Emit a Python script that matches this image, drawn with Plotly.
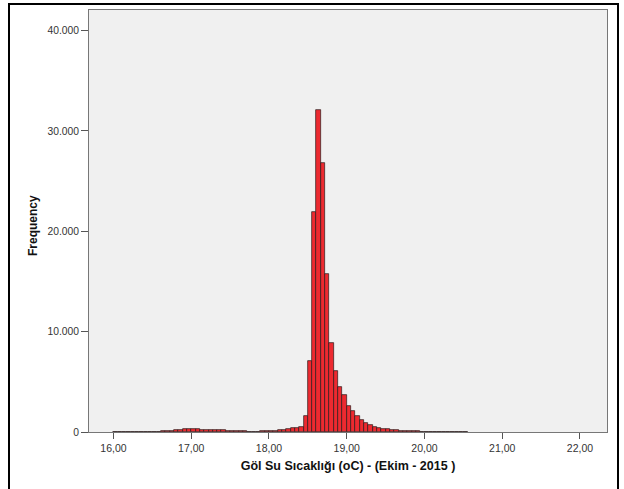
import plotly.graph_objects as go

# Histogram data (bins of width ~0.0556 °C starting at 16.00)
BIN_START = 16.0
BIN_WIDTH = 1.0 / 18.0
counts = [
    0, 0, 5, 5, 8, 10, 12, 15, 20,
    30, 40, 60, 80, 110, 160, 220, 270, 300, 290,
    260, 230, 210, 200, 190, 180, 160, 130, 100, 80,
    70, 60, 50, 50, 50, 60, 60, 80, 110, 150,
    230, 340, 380, 400, 530, 1560, 7050, 21880, 32080, 26840,
    15760, 8840, 6060, 4500, 3670,
    2580, 2090, 1620, 1190, 890, 695, 530, 400, 320, 250,
    200, 160, 130, 110, 90, 75, 60, 50, 40, 30,
    25, 20, 15, 12, 10, 8, 5, 5,
]
x_ticks = [16, 17, 18, 19, 20, 21, 22]
y_ticks = [0, 10000, 20000, 30000, 40000]

centers = [BIN_START + (i + 0.5) * BIN_WIDTH for i in range(len(counts))]

fig = go.Figure(
    go.Bar(
        x=centers,
        y=counts,
        width=BIN_WIDTH,
        marker=dict(color="#EC2A30", line=dict(color="#2a1a1a", width=0.7)),
    )
)

font_family = "Liberation Sans, Arial, sans-serif"

L, R, T, B = 89, 17, 10, 57
W, H = 624, 489
PW, PH = W - L - R, H - T - B


def px_x(px):
    return (px - L) / PW


def px_y(py):
    return (H - B - py) / PH


fig.update_layout(
    width=W,
    height=H,
    margin=dict(l=L, r=R, t=T, b=B),
    paper_bgcolor="white",
    plot_bgcolor="#F0F0F0",
    separators=",.",
    showlegend=False,
    bargap=0,
    font=dict(family=font_family, size=11, color="#333333"),
    xaxis=dict(
        range=[15.685, 22.348],
        tickvals=x_ticks,
        tickformat=".2f",
        ticks="outside",
        ticklen=6,
        tickcolor="#555555",
        showgrid=False,
        zeroline=False,
        showline=True,
        linecolor="#777777",
        linewidth=1,
        mirror=True,
        tickfont=dict(size=10.5, color="#333333"),
        title=dict(
            text="<b>Göl Su Sıcaklığı (oC) - (Ekim - 2015 )</b>",
            font=dict(size=12.5, color="#111111"),
            standoff=8,
        ),
    ),
    yaxis=dict(
        range=[0, 42050],
        tickvals=y_ticks,
        tickformat=",.0f",
        ticks="outside",
        ticklen=7,
        tickcolor="#555555",
        showgrid=False,
        zeroline=False,
        showline=True,
        linecolor="#777777",
        linewidth=1,
        mirror=True,
        tickfont=dict(size=10.3, color="#333333"),
    ),
    annotations=[
        dict(
            text="<b>Frequency</b>",
            xref="paper",
            yref="paper",
            x=px_x(33),
            y=px_y(226),
            textangle=-90,
            showarrow=False,
            xanchor="center",
            yanchor="middle",
            font=dict(size=12, color="#111111"),
        )
    ],
    shapes=[
        dict(
            type="rect",
            xref="paper",
            yref="paper",
            x0=px_x(9),
            x1=px_x(618),
            y0=px_y(520),
            y1=px_y(4),
            line=dict(color="black", width=2),
            fillcolor="rgba(0,0,0,0)",
            layer="above",
        )
    ],
)

fig.write_html(
    "out.html",
    config={"displayModeBar": False},
    post_script="document.body.style.margin='0';document.body.style.overflow='hidden';",
)
